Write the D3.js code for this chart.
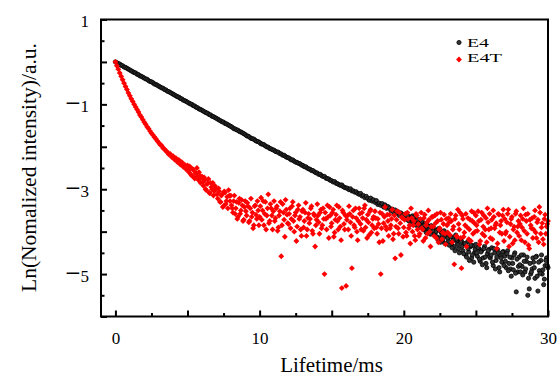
<!DOCTYPE html>
<html>
<head>
<meta charset="utf-8">
<script src="https://cdn.jsdelivr.net/npm/d3@7"></script>
<style>
  body { margin: 0; background: #fff; }
  svg text { font-family: "Liberation Serif", "DejaVu Serif", serif; fill: #000; }
</style>
</head>
<body>
<script>
// decay time (ms) of each channel
const lifetime = [
  0,0.1,0.2,0.3,0.4,0.5,0.6,0.7,0.8,0.9,
  1,1.1,1.2,1.3,1.4,1.5,1.6,1.7,1.8,1.9,
  2,2.1,2.2,2.3,2.4,2.5,2.6,2.7,2.8,2.9,
  3,3.1,3.2,3.3,3.4,3.5,3.6,3.7,3.8,3.9,
  4,4.1,4.2,4.3,4.4,4.5,4.6,4.7,4.8,4.9,
  5,5.1,5.2,5.3,5.4,5.5,5.6,5.7,5.8,5.9,
  6,6.1,6.2,6.3,6.4,6.5,6.6,6.7,6.8,6.9,
  7,7.1,7.2,7.3,7.4,7.5,7.6,7.7,7.8,7.9,
  8,8.1,8.2,8.3,8.4,8.5,8.6,8.7,8.8,8.9,
  9,9.1,9.2,9.3,9.4,9.5,9.6,9.7,9.8,9.9,
  10,10.1,10.2,10.3,10.4,10.5,10.6,10.7,10.8,10.9,
  11,11.1,11.2,11.3,11.4,11.5,11.6,11.7,11.8,11.9,
  12,12.1,12.2,12.3,12.4,12.5,12.6,12.7,12.8,12.9,
  13,13.1,13.2,13.3,13.4,13.5,13.6,13.7,13.8,13.9,
  14,14.1,14.2,14.3,14.4,14.5,14.6,14.7,14.8,14.9,
  15,15.1,15.2,15.3,15.4,15.5,15.6,15.7,15.8,15.9,
  16,16.1,16.2,16.3,16.4,16.5,16.6,16.7,16.8,16.9,
  17,17.1,17.2,17.3,17.4,17.5,17.6,17.7,17.8,17.9,
  18,18.1,18.2,18.3,18.4,18.5,18.6,18.7,18.8,18.9,
  19,19.1,19.2,19.3,19.4,19.5,19.6,19.7,19.8,19.9,
  20,20.1,20.2,20.3,20.4,20.5,20.6,20.7,20.8,20.9,
  21,21.1,21.2,21.3,21.4,21.5,21.6,21.7,21.8,21.9,
  22,22.1,22.2,22.3,22.4,22.5,22.6,22.7,22.8,22.9,
  23,23.1,23.2,23.3,23.4,23.5,23.6,23.7,23.8,23.9,
  24,24.1,24.2,24.3,24.4,24.5,24.6,24.7,24.8,24.9,
  25,25.1,25.2,25.3,25.4,25.5,25.6,25.7,25.8,25.9,
  26,26.1,26.2,26.3,26.4,26.5,26.6,26.7,26.8,26.9,
  27,27.1,27.2,27.3,27.4,27.5,27.6,27.7,27.8,27.9,
  28,28.1,28.2,28.3,28.4,28.5,28.6,28.7,28.8,28.9,
  29,29.1,29.2,29.3,29.4,29.5,29.6,29.7,29.8,29.9,
  30
];

// interleaved channels (ms) from 5.05 ms on
const lifetimeB = [
  5.05,5.15,5.25,5.35,5.45,5.55,5.65,5.75,5.85,5.95,
  6.05,6.15,6.25,6.35,6.45,6.55,6.65,6.75,6.85,6.95,
  7.05,7.15,7.25,7.35,7.45,7.55,7.65,7.75,7.85,7.95,
  8.05,8.15,8.25,8.35,8.45,8.55,8.65,8.75,8.85,8.95,
  9.05,9.15,9.25,9.35,9.45,9.55,9.65,9.75,9.85,9.95,
  10.05,10.15,10.25,10.35,10.45,10.55,10.65,10.75,10.85,10.95,
  11.05,11.15,11.25,11.35,11.45,11.55,11.65,11.75,11.85,11.95,
  12.05,12.15,12.25,12.35,12.45,12.55,12.65,12.75,12.85,12.95,
  13.05,13.15,13.25,13.35,13.45,13.55,13.65,13.75,13.85,13.95,
  14.05,14.15,14.25,14.35,14.45,14.55,14.65,14.75,14.85,14.95,
  15.05,15.15,15.25,15.35,15.45,15.55,15.65,15.75,15.85,15.95,
  16.05,16.15,16.25,16.35,16.45,16.55,16.65,16.75,16.85,16.95,
  17.05,17.15,17.25,17.35,17.45,17.55,17.65,17.75,17.85,17.95,
  18.05,18.15,18.25,18.35,18.45,18.55,18.65,18.75,18.85,18.95,
  19.05,19.15,19.25,19.35,19.45,19.55,19.65,19.75,19.85,19.95,
  20.05,20.15,20.25,20.35,20.45,20.55,20.65,20.75,20.85,20.95,
  21.05,21.15,21.25,21.35,21.45,21.55,21.65,21.75,21.85,21.95,
  22.05,22.15,22.25,22.35,22.45,22.55,22.65,22.75,22.85,22.95,
  23.05,23.15,23.25,23.35,23.45,23.55,23.65,23.75,23.85,23.95,
  24.05,24.15,24.25,24.35,24.45,24.55,24.65,24.75,24.85,24.95,
  25.05,25.15,25.25,25.35,25.45,25.55,25.65,25.75,25.85,25.95,
  26.05,26.15,26.25,26.35,26.45,26.55,26.65,26.75,26.85,26.95,
  27.05,27.15,27.25,27.35,27.45,27.55,27.65,27.75,27.85,27.95,
  28.05,28.15,28.25,28.35,28.45,28.55,28.65,28.75,28.85,28.95,
  29.05,29.15,29.25,29.35,29.45,29.55,29.65,29.75,29.85,29.95
];

// Ln(normalized intensity), sample E4
const e4 = [
  0,-0.02,-0.04,-0.05,-0.08,-0.09,-0.12,-0.13,-0.15,-0.17,
  -0.19,-0.21,-0.23,-0.25,-0.26,-0.29,-0.30,-0.33,-0.34,-0.36,
  -0.38,-0.40,-0.41,-0.44,-0.46,-0.47,-0.49,-0.52,-0.53,-0.55,
  -0.57,-0.59,-0.61,-0.62,-0.65,-0.66,-0.69,-0.70,-0.72,-0.74,
  -0.76,-0.78,-0.80,-0.82,-0.83,-0.86,-0.87,-0.90,-0.91,-0.93,
  -0.95,-0.97,-0.99,-1.00,-1.03,-1.04,-1.07,-1.08,-1.11,-1.12,
  -1.14,-1.16,-1.18,-1.20,-1.21,-1.24,-1.25,-1.28,-1.29,-1.31,
  -1.33,-1.35,-1.37,-1.39,-1.41,-1.42,-1.45,-1.46,-1.48,-1.50,
  -1.52,-1.54,-1.57,-1.58,-1.60,-1.61,-1.64,-1.65,-1.67,-1.69,
  -1.71,-1.74,-1.75,-1.77,-1.80,-1.81,-1.82,-1.85,-1.87,-1.88,
  -1.90,-1.93,-1.94,-1.95,-1.98,-2.00,-2.01,-2.04,-2.05,-2.07,
  -2.08,-2.11,-2.12,-2.13,-2.16,-2.17,-2.20,-2.20,-2.23,-2.25,
  -2.26,-2.28,-2.31,-2.31,-2.34,-2.36,-2.37,-2.39,-2.40,-2.43,
  -2.44,-2.47,-2.47,-2.50,-2.52,-2.53,-2.56,-2.56,-2.59,-2.61,
  -2.62,-2.65,-2.65,-2.68,-2.70,-2.70,-2.74,-2.75,-2.76,-2.79,
  -2.80,-2.83,-2.82,-2.86,-2.87,-2.89,-2.91,-2.90,-2.94,-2.96,
  -2.97,-2.98,-3.01,-2.99,-3.04,-3.04,-3.07,-3.06,-3.10,-3.12,
  -3.10,-3.16,-3.15,-3.20,-3.17,-3.22,-3.26,-3.21,-3.28,-3.25,
  -3.31,-3.27,-3.36,-3.33,-3.38,-3.34,-3.42,-3.37,-3.45,-3.41,
  -3.44,-3.50,-3.47,-3.55,-3.49,-3.57,-3.53,-3.62,-3.56,-3.60,
  -3.60,-3.68,-3.58,-3.72,-3.65,-3.76,-3.63,-3.80,-3.70,-3.74,
  -3.72,-3.85,-3.79,-3.92,-3.80,-3.96,-3.83,-3.88,-4.00,-3.86,
  -3.90,-4.05,-3.96,-4.12,-3.93,-4.15,-4.02,-4.20,-3.98,-4.08,
  -4.05,-4.22,-4.10,-4.30,-4.14,-4.35,-4.08,-4.25,-4.40,-4.18,
  -4.22,-4.45,-4.30,-4.55,-4.25,-4.48,-4.36,-4.62,-4.33,-4.50,
  -4.30,-4.58,-4.40,-4.70,-4.45,-4.62,-4.35,-4.75,-4.52,-4.42,
  -4.62,-4.38,-4.80,-4.50,-4.68,-4.42,-4.85,-4.55,-4.72,-4.47,
  -4.58,-4.85,-4.45,-4.75,-4.88,-4.62,-4.90,-4.50,-5.42,-4.95,
  -4.60,-4.95,-4.82,-4.55,-4.95,-4.70,-5.50,-5.35,-5.00,-4.88,
  -4.72,-5.10,-4.58,-5.40,-4.92,-4.68,-5.00,-5.25,-4.80,-4.62,
  -4.85
];

// E4 at the interleaved channels from 20.05 ms on (lifetimeB index 150+)
const e4B = [
  -3.64,-3.70,-3.62,-3.75,-3.68,-3.82,-3.66,-3.78,-3.85,-3.72,
  -3.80,-3.90,-3.76,-3.95,-3.84,-4.02,-3.88,-3.94,-4.06,-3.90,
  -3.98,-4.10,-4.00,-4.18,-3.96,-4.25,-4.08,-4.15,-4.28,-4.05,
  -4.15,-4.32,-4.12,-4.38,-4.20,-4.45,-4.18,-4.30,-4.50,-4.25,
  -4.35,-4.52,-4.28,-4.60,-4.40,-4.68,-4.32,-4.55,-4.72,-4.42,
  -4.50,-4.38,-4.65,-4.48,-4.78,-4.40,-4.60,-4.85,-4.45,-4.58,
  -4.55,-4.72,-4.40,-4.88,-4.60,-4.50,-4.95,-4.62,-4.48,-4.80,
  -4.70,-4.52,-4.92,-4.60,-5.05,-4.75,-4.55,-4.98,-4.65,-4.82,
  -4.78,-4.55,-5.02,-4.70,-4.88,-4.60,-5.10,-4.75,-4.95,-4.62,
  -4.85,-4.60,-5.05,-4.72,-4.98,-4.55,-4.90,-5.12,-4.68,-4.80
];

// Ln(normalized intensity), sample E4T
const e4t = [
  0,-0.09,-0.17,-0.26,-0.34,-0.42,-0.50,-0.58,-0.65,-0.73,
  -0.80,-0.87,-0.93,-1.00,-1.06,-1.12,-1.18,-1.25,-1.30,-1.36,
  -1.42,-1.47,-1.53,-1.57,-1.63,-1.68,-1.72,-1.77,-1.81,-1.86,
  -1.90,-1.95,-1.97,-2.03,-2.05,-2.10,-2.12,-2.18,-2.17,-2.24,
  -2.22,-2.30,-2.27,-2.36,-2.31,-2.42,-2.36,-2.47,-2.42,-2.53,
  -2.44,-2.60,-2.50,-2.68,-2.55,-2.75,-2.62,-2.70,-2.60,-2.85,
  -2.70,-2.92,-2.78,-3.02,-2.86,-3.08,-2.85,-3.00,-3.15,-2.92,
  -2.98,-3.22,-3.05,-3.30,-3.12,-3.40,-3.08,-3.28,-3.45,-3.15,
  -3.15,-3.45,-3.28,-3.58,-3.30,-3.65,-3.22,-3.50,-3.38,-3.72,
  -3.28,-3.62,-3.40,-3.75,-3.22,-3.55,-3.85,-3.38,-3.70,-3.50,
  -3.65,-3.20,-3.50,-3.85,-3.30,-3.62,-3.12,-3.75,-3.45,-3.95,
  -3.28,-3.68,-3.40,-3.90,-3.52,-4.58,-3.35,-3.72,-3.25,-3.60,
  -3.82,-3.45,-3.70,-3.30,-4.00,-3.55,-3.88,-3.38,-3.65,-4.10,
  -3.48,-3.75,-3.32,-3.95,-3.58,-3.70,-3.40,-4.05,-3.62,-3.85,
  -3.35,-3.78,-3.55,-3.92,-3.45,-5.00,-3.70,-3.38,-4.15,-3.62,
  -3.80,-3.48,-4.02,-3.60,-3.75,-3.42,-3.88,-5.33,-3.55,-3.95,
  -5.28,-3.62,-3.40,-3.78,-4.86,-3.50,-3.90,-3.68,-4.20,-3.45,
  -3.82,-3.55,-3.98,-3.38,-3.72,-3.60,-4.08,-3.48,-3.85,-3.65,
  -3.52,-3.90,-3.70,-4.25,-5.00,-3.58,-3.80,-3.42,-3.95,-3.75,
  -3.60,-3.85,-3.48,-4.05,-4.63,-3.72,-3.92,-3.55,-4.55,-3.68,
  -3.90,-3.58,-4.10,-3.70,-3.85,-3.45,-4.00,-3.75,-4.20,-3.62,
  -3.82,-4.05,-3.55,-3.95,-3.68,-4.15,-3.78,-3.50,-4.00,-3.88,
  -3.65,-4.10,-3.80,-3.58,-4.25,-3.92,-3.72,-4.02,-3.60,-4.30,
  -3.85,-3.68,-4.08,-3.75,-3.95,-4.77,-3.62,-4.12,-3.82,-3.55,
  -4.86,-3.70,-4.02,-3.58,-3.90,-4.18,-3.72,-3.52,-4.05,-3.80,
  -3.62,-3.98,-3.75,-4.22,-3.55,-3.88,-4.10,-3.68,-3.45,-3.95,
  -4.15,-3.72,-3.50,-3.92,-3.80,-4.28,-3.60,-3.85,-4.05,-3.48,
  -3.70,-4.00,-3.58,-4.35,-3.82,-3.65,-3.95,-4.20,-3.52,-3.88,
  -4.10,-3.62,-3.90,-3.45,-4.25,-3.75,-3.58,-4.40,-3.85,-3.68,
  -3.95,-3.50,-4.15,-3.72,-3.42,-4.05,-3.80,-4.30,-3.60,-3.88,
  -3.75
];

// E4T at the interleaved channels (lifetimeB)
const e4tB = [
  -2.55,-2.46,-2.66,-2.52,-2.72,-2.62,-2.50,-2.78,-2.68,-2.74,
  -2.84,-2.72,-3.00,-2.88,-2.76,-3.10,-2.95,-2.85,-3.05,-2.98,
  -3.12,-2.98,-3.30,-3.15,-3.42,-3.05,-3.35,-3.18,-3.02,-3.28,
  -3.38,-3.55,-3.15,-3.45,-3.70,-3.32,-3.58,-3.25,-3.75,-3.42,
  -3.52,-3.32,-3.78,-3.45,-3.65,-3.92,-3.40,-3.60,-3.28,-3.85,
  -3.40,-3.72,-3.28,-3.58,-3.95,-3.45,-3.80,-3.35,-3.62,-3.52,
  -3.75,-3.45,-3.98,-3.62,-3.30,-3.85,-3.55,-4.12,-3.48,-3.80,
  -3.58,-3.92,-3.40,-3.75,-3.62,-4.22,-3.48,-3.70,-3.95,-3.52,
  -3.90,-3.55,-4.10,-3.68,-3.80,-3.45,-3.98,-3.58,-4.35,-3.72,
  -3.62,-4.05,-3.48,-3.85,-3.70,-3.55,-3.95,-3.65,-3.42,-3.88,
  -3.55,-4.12,-3.72,-3.38,-3.95,-3.68,-4.20,-3.50,-3.82,-3.62,
  -3.72,-3.95,-3.58,-4.10,-3.65,-3.85,-3.45,-4.00,-3.75,-3.58,
  -3.95,-3.68,-3.45,-3.90,-4.15,-3.78,-3.52,-4.02,-3.70,-3.92,
  -3.68,-4.05,-3.82,-3.55,-3.92,-4.22,-3.65,-3.88,-3.60,-4.10,
  -3.92,-3.70,-4.18,-3.62,-3.88,-3.52,-4.05,-3.80,-3.66,-4.12,
  -3.72,-4.02,-3.55,-3.92,-4.28,-3.68,-3.85,-4.10,-3.58,-3.95,
  -4.10,-3.70,-3.92,-4.22,-3.60,-3.85,-4.05,-3.72,-4.35,-3.65,
  -3.88,-3.62,-4.15,-3.75,-3.95,-3.55,-4.18,-3.82,-4.05,-3.70,
  -4.02,-3.78,-3.58,-4.25,-3.88,-3.70,-4.10,-3.48,-3.95,-4.15,
  -3.62,-4.12,-3.85,-4.35,-3.68,-3.95,-4.22,-3.75,-3.55,-4.00,
  -3.85,-3.52,-4.30,-3.72,-4.05,-3.62,-3.95,-4.25,-3.78,-3.58,
  -3.92,-4.18,-3.65,-3.85,-4.40,-3.58,-4.02,-3.75,-3.62,-4.22,
  -4.05,-3.78,-3.48,-4.12,-3.70,-4.28,-3.88,-3.58,-4.02,-3.75,
  -3.82,-4.20,-3.70,-3.98,-3.60,-4.05,-4.32,-3.72,-3.92,-4.15,
  -3.65,-4.02,-3.78,-4.25,-3.55,-3.90,-4.18,-3.70,-4.05,-3.82
];

const seriesNames = ["E4", "E4T"];
const xMajorTicks = [0, 5, 10, 15, 20, 25, 30];
const xMinorTicks = [2.5, 7.5, 12.5, 17.5, 22.5, 27.5];
const xLabelTicks = [0, 10, 20, 30];
const yMajorTicks = [-6, -5, -4, -3, -2, -1, 0, 1];
const yMinorTicks = [-5.5, -4.5, -3.5, -2.5, -1.5, -0.5, 0.5];
const yLabelTicks = [-5, -3, -1, 1];

const width = 560, height = 376;
const plotLeft = 101, plotRight = 548, plotTop = 19.5, plotBottom = 316.5;
const serif = '"Liberation Serif", "DejaVu Serif", serif';

const svg = d3.select("body").append("svg")
  .attr("width", width)
  .attr("height", height);

const x = d3.scaleLinear().domain([-1, 30]).range([plotLeft, plotRight]);
const y = d3.scaleLinear().domain([-6, 1]).range([plotBottom, plotTop]);

// points
const e4Data = lifetime.map((t, i) => ({ t: t, v: e4[i] }))
  .concat(lifetimeB.slice(150).map((t, i) => ({ t: t, v: e4B[i] })));
const e4tData = lifetime.map((t, i) => ({ t: t, v: e4t[i] }))
  .concat(lifetimeB.map((t, i) => ({ t: t, v: e4tB[i] })));

svg.append("g").selectAll("circle")
  .data(e4Data)
  .enter().append("circle")
  .attr("cx", d => x(d.t))
  .attr("cy", d => y(d.v))
  .attr("r", 2.1)
  .attr("fill", "#333")
  .attr("stroke", "#000")
  .attr("stroke-width", 0.8);

const diamond = d3.symbol().type(d3.symbolSquare).size(17);
svg.append("g").selectAll("path")
  .data(e4tData)
  .enter().append("path")
  .attr("d", diamond)
  .attr("transform", d => `translate(${x(d.t)},${y(d.v)}) rotate(45)`)
  .attr("fill", "#f00");

// axes: ticks point inward
const fmt = d => (xLabelTicks.includes(d) ? d3.format("d")(d) : "");
const fmtY = d => (yLabelTicks.includes(d) ? d3.format("d")(d) : "");

svg.append("g")
  .attr("transform", `translate(0,${plotBottom})`)
  .call(d3.axisBottom(x).tickValues(xMajorTicks).tickSize(-6).tickPadding(15).tickFormat(fmt));
svg.append("g")
  .attr("transform", `translate(0,${plotBottom})`)
  .call(d3.axisBottom(x).tickValues(xMinorTicks).tickSize(-3.5).tickFormat(""));

const yAxis = svg.append("g")
  .attr("transform", `translate(${plotLeft},0)`)
  .call(d3.axisLeft(y).tickValues(yMajorTicks).tickSize(-6).tickPadding(12).tickFormat(fmtY));
svg.append("g")
  .attr("transform", `translate(${plotLeft},0)`)
  .call(d3.axisLeft(y).tickValues(yMinorTicks).tickSize(-3.5).tickFormat(""));

svg.selectAll(".domain").remove();
svg.selectAll("g").attr("font-family", null);
svg.selectAll(".tick line").attr("stroke", "#000").attr("stroke-width", 2);
svg.selectAll(".tick text")
  .attr("font-family", serif)
  .attr("font-size", 17);

yAxis.selectAll(".tick text").attr("dy", "0.44em");

// wide minus sign like the original
yAxis.selectAll(".tick text").each(function() {
  const t = d3.select(this);
  const s = t.text();
  if (s.startsWith("\u2212")) {
    t.text("");
    t.append("tspan").attr("font-size", 27).text("\u2212");
    t.append("tspan").text(s.slice(1));
  }
});

// frame
svg.append("rect")
  .attr("x", plotLeft)
  .attr("y", plotTop)
  .attr("width", plotRight - plotLeft)
  .attr("height", plotBottom - plotTop)
  .attr("fill", "none")
  .attr("stroke", "#000")
  .attr("stroke-width", 2);

// axis titles
svg.append("text")
  .attr("x", 331.5)
  .attr("y", 372)
  .attr("text-anchor", "middle")
  .attr("font-family", serif)
  .attr("font-size", 21)
  .text("Lifetime/ms");

svg.append("text")
  .attr("transform", "translate(36,167.5) rotate(-90)")
  .attr("text-anchor", "middle")
  .attr("font-family", serif)
  .attr("font-size", 21.5)
  .text("Ln(Nomalized intensity)/a.u.");

// legend
const legend = svg.append("g");
legend.append("circle")
  .attr("cx", 459).attr("cy", 42.5).attr("r", 2.1)
  .attr("fill", "#333").attr("stroke", "#000").attr("stroke-width", 0.8);
legend.append("path")
  .attr("d", diamond)
  .attr("transform", "translate(459,59.5) rotate(45)")
  .attr("fill", "#f00");
legend.selectAll("text.lg")
  .data(seriesNames)
  .enter().append("text")
  .attr("class", "lg")
  .attr("x", 467)
  .attr("y", (d, i) => 47 + i * 15)
  .attr("font-family", serif)
  .attr("font-size", 13.5)
  .attr("textLength", (d, i) => [22, 35][i])
  .attr("lengthAdjust", "spacingAndGlyphs")
  .text(d => d);
</script>
</body>
</html>
